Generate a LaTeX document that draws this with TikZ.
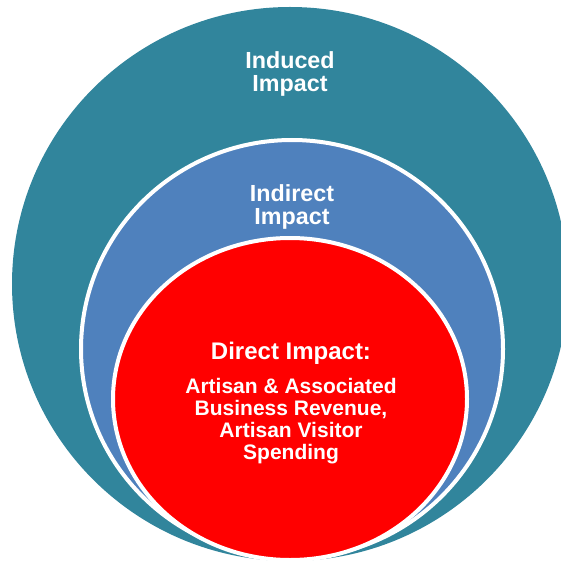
\documentclass[tikz,border=0pt]{standalone}
\usepackage{fontspec}
\setmainfont{Liberation Sans}
\definecolor{tealc}{HTML}{31859C}
\definecolor{bluec}{HTML}{4F81BD}
\definecolor{redc}{HTML}{FF0000}
\begin{document}
\begin{tikzpicture}[x=1pt,y=-1pt,
  ring/.style={draw=white,line width=4pt},
  bigtxt/.style={text=white,align=center,inner sep=0pt,anchor=north,font=\fontsize{23.3}{23}\selectfont\bfseries},
  midtxt/.style={text=white,align=center,inner sep=0pt,anchor=north,font=\fontsize{24}{23}\selectfont\bfseries},
  smalltxt/.style={text=white,align=center,inner sep=0pt,anchor=north,font=\fontsize{21}{22}\selectfont\bfseries}]
\useasboundingbox (0,0) rectangle (561,561);
\clip (0,0) rectangle (561,561);
\fill[tealc] (290,284) ellipse [x radius=278, y radius=277];
\path[ring,fill=bluec] (292,349) ellipse [x radius=211, y radius=209];
\path[ring,fill=redc] (290,399) ellipse [x radius=177, y radius=161];
\node[bigtxt] (induced) at (290,51) {Induced\\Impact};
\node[bigtxt] (indirect) at (292,184) {Indirect\\Impact};
\node[midtxt] (direct) at (291,341.5) {Direct Impact:};
\node[smalltxt] (details) at (291,377.7) {Artisan \& Associated\\Business Revenue,\\Artisan Visitor\\Spending};
\end{tikzpicture}
\end{document}
